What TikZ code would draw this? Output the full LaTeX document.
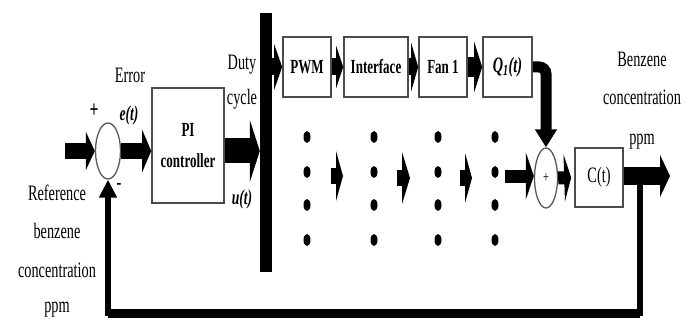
\documentclass[tikz,border=0pt]{standalone}
\usepackage{fontspec}
\setmainfont{Liberation Serif}[FakeStretch=0.65]
\usetikzlibrary{arrows.meta,shapes.geometric}

\begin{document}
\begin{tikzpicture}[x=1pt,y=-1pt,
  blk/.style={draw=black!70, line width=1.6pt, minimum height=60pt, inner sep=0pt,
              align=center, font=\fontsize{20}{31}\selectfont\bfseries},
  sumj/.style={ellipse, draw=black!65, line width=1.3pt, inner sep=0pt},
  lbl/.style={anchor=base, inner sep=0pt, font=\fontsize{22}{22}\selectfont},
  sig/.style={anchor=base, inner sep=0pt, font=\fontsize{21}{21}\selectfont\bfseries\itshape},
  dot/.style={ellipse, fill=black, minimum width=7pt, minimum height=12pt, inner sep=0pt},
  barrow/.style n args={3}{line width=#1, -{Triangle[length=#2, width=#3]}},
]
% canvas
\path[fill=white, use as bounding box] (0,0) rectangle (695,323);

% summing junctions
\node[sumj, minimum width=25pt, minimum height=56pt] (s1) at (108,151) {};
\node[sumj, minimum width=23pt, minimum height=60pt,
      font=\fontsize{16}{16}\selectfont] (s2) at (546,178) {+};

% controller and distribution bar
\node[blk, minimum width=72pt, minimum height=115pt] (pi) at (188,145.5) {PI\\controller};
\node[fill=black, minimum width=12pt, minimum height=259pt, inner sep=0pt] (bar) at (266,142.5) {};

% top actuator chain
\node[blk, minimum width=48pt] (pwm)   at (307,67)   {PWM};
\node[blk, minimum width=64pt] (iface) at (376,67)   {Interface};
\node[blk, minimum width=48pt] (fan)   at (443,67)   {Fan 1};
\node[blk, minimum width=49pt, font=\fontsize{22}{22}\selectfont\bfseries\itshape] (q) at (507.5,67) {Q\textsubscript{1}(t)};

% plant
\node[blk, minimum width=48pt, minimum height=59pt, font=\fontsize{22}{22}\selectfont] (ct) at (599,177.5) {C(t)};

% columns of dots for the remaining fans
\foreach \x [count=\i] in {307,374,438,495}
  \foreach \y [count=\j] in {137,172,205,240}
    \node[dot] (d\i\j) at (\x,\y) {};

% free ends
\coordinate (in)  at (65,151);
\coordinate (d4)  at (505,176);
\coordinate (out) at (670,176);
\coordinate (tap) at (640,180);
\coordinate (fb)  at (640,313);
\coordinate (m1a) at (331,176); \coordinate (m1b) at (343,176);
\coordinate (m2a) at (397,178); \coordinate (m2b) at (410,178);
\coordinate (m3a) at (460,178); \coordinate (m3b) at (472,178);

% forward path
\draw[barrow={16pt}{9pt}{38pt}] (in) -- (s1.west);
\draw[barrow={16pt}{9pt}{42pt}] (s1.east) -- (s1.east -| pi.west);
\draw[barrow={25pt}{10pt}{62pt}] (pi.east |- s1.east) -- (s1.east -| bar.west);
\draw[barrow={17pt}{8pt}{45pt}] (bar.east |- pwm.west) -- (pwm.west);
\draw[barrow={17pt}{7pt}{42pt}] (pwm.east) -- (iface.west);
\draw[barrow={17pt}{7pt}{48pt}] (iface.east) -- (fan.west);
\draw[barrow={20pt}{8pt}{50pt}] (fan.east) -- (q.west);
\draw[line width=11pt, rounded corners=7pt, -{Triangle[length=18pt, width=21pt]}]
  (q.east) -| (s2.north);
\draw[barrow={16pt}{7pt}{50pt}] (m1a) -- (m1b);
\draw[barrow={16pt}{8pt}{52pt}] (m2a) -- (m2b);
\draw[barrow={16pt}{7pt}{50pt}] (m3a) -- (m3b);
\draw[barrow={13pt}{8pt}{47pt}] (d4) -- (d4 -| s2.west);
\draw[barrow={13pt}{7pt}{47pt}, shorten >=3pt] (s2.east) -- (ct.west);
\draw[barrow={18pt}{10pt}{42pt}] (ct.east |- out) -- (out);

% feedback path
\draw[line width=6pt, -{Triangle[length=18pt, width=17pt]}]
  (tap) -- (fb) -- (fb -| s1.south) -- (s1.south);
\draw[line width=9pt, line cap=square] (fb) -- (fb -| s1.south);

% signs at the first junction
\node[inner sep=0pt, font=\fontsize{24}{24}\selectfont\bfseries] (plus1) at (94,111) {+};
\node[inner sep=0pt, font=\fontsize{22}{22}\selectfont\bfseries] (minus1) at (119,186) {-};

% signal labels
\node[lbl] (errl)  at (130,83)  {Error};
\node[sig] (et)    at (129,121) {e(t)};
\node[lbl] (duty)  at (242,70)  {Duty};
\node[lbl] (cyc)   at (242,105) {cycle};
\node[sig] (ut)    at (242,204) {u(t)};

\node[lbl] (bz1) at (642,67)  {Benzene};
\node[lbl] (bz2) at (642,105) {concentration};
\node[lbl] (bz3) at (642,145) {ppm};

\node[lbl] (rf1) at (57,200) {Reference};
\node[lbl] (rf2) at (57,238) {benzene};
\node[lbl] (rf3) at (57,277) {concentration};
\node[lbl] (rf4) at (57,312) {ppm};
\end{tikzpicture}
\end{document}
